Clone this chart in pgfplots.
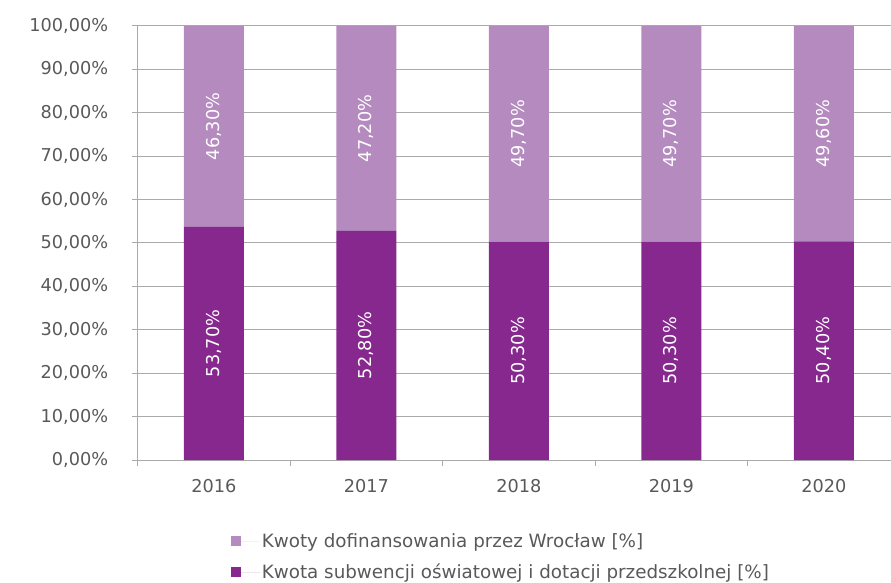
\documentclass[border=0pt]{standalone}
\usepackage{pgfplots}
\pgfplotsset{compat=1.18}
\usepackage{fontspec}
\setmainfont{DejaVu Sans}
\definecolor{dark}{RGB}{134,40,142}
\definecolor{light}{RGB}{180,138,191}
\definecolor{txt}{RGB}{89,89,89}
\definecolor{gridc}{RGB}{170,170,170}
\begin{document}
\begin{tikzpicture}[font=\fontsize{17.7}{21}\selectfont]
\useasboundingbox (-137.7pt,-123pt) rectangle (753.3pt,460pt);
\begin{axis}[
  at={(0pt,0pt)}, anchor=south west,
  scale only axis, width=762.5pt, height=434pt,
  ybar stacked, bar width=60pt,
  xmin=-0.5, xmax=4.5, ymin=0, ymax=100,
  xtick={-0.5,0.5,1.5,2.5,3.5,4.5}, xticklabels={},
  extra x ticks={0,1,2,3,4},
  extra x tick labels={2016,2017,2018,2019,2020},
  extra x tick style={major tick length=0pt, grid=none},
  ytick={0,10,...,100},
  yticklabel={\pgfmathprintnumber[fixed,fixed zerofill,precision=2,use comma]{\tick}\%},
  /pgf/number format/assume math mode=true,
  tick align=outside, major tick length=6pt,
  tick style={gridc, line width=1pt},
  tick label style={text=txt},
  x tick label style={yshift=-16pt},
  y tick label style={xshift=-20pt},
  ymajorgrids, grid style={gridc, line width=1pt},
  axis lines*=left, axis line style={gridc, line width=1pt, -},
  point meta=explicit,
  nodes near coords={\pgfmathprintnumber[fixed,fixed zerofill,precision=2,use comma]{\pgfplotspointmeta}\%},
  nodes near coords style={rotate=90, anchor=center, text=white},
  legend style={at={(0.118,-0.16)}, anchor=north west, draw=none, fill=none, text=txt, row sep=11pt, font=\fontsize{18.3}{21}\selectfont},
  legend cell align=left,
  reverse legend,
  legend image code/.code={\fill[#1] (0pt,-5pt) rectangle (10pt,5pt); \path (0pt,0pt) -- (29pt,0pt);},
]
\addplot[fill=dark, draw=none] coordinates {(0,53.7) [53.7] (1,52.8) [52.8] (2,50.3) [50.3] (3,50.3) [50.3] (4,50.4) [50.4]};
\addlegendentry{Kwota subwencji oświatowej i dotacji przedszkolnej [\%]}
\addplot[fill=light, draw=none] coordinates {(0,46.3) [46.3] (1,47.2) [47.2] (2,49.7) [49.7] (3,49.7) [49.7] (4,49.6) [49.6]};
\addlegendentry{Kwoty dofinansowania przez Wrocław [\%]}
\end{axis}
\end{tikzpicture}
\end{document}
